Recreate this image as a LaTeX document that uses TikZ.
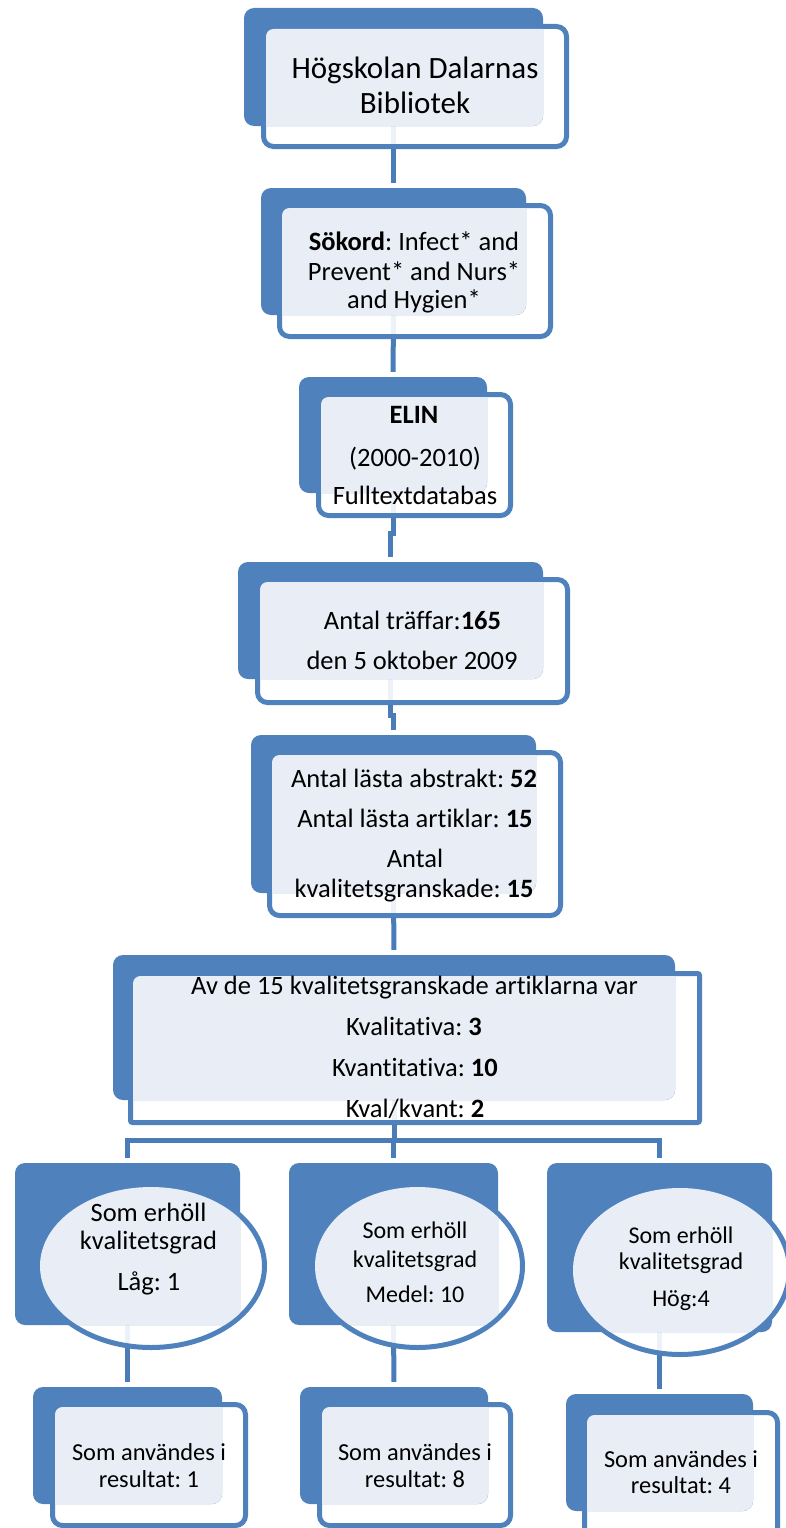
\documentclass[tikz,border=0pt]{standalone}
\usepackage{fontspec}
\setmainfont{Carlito}[Ligatures={NoCommon}]
\frenchspacing
\usetikzlibrary{backgrounds,shapes.geometric}
\definecolor{ablue}{RGB}{79,129,189}
\definecolor{alight}{RGB}{233,238,246}
\definecolor{aline}{RGB}{74,124,184}
\tikzset{
  backbox/.style={fill=ablue, draw=none, rounded corners=10pt, inner sep=0pt},
  frontbox/.style={draw=ablue, line width=5pt, fill=white, fill opacity=0.9, draw opacity=1, rounded corners=10pt, inner sep=0pt},
  ellbox/.style={ellipse, draw=ablue, line width=5pt, fill=white, fill opacity=0.9, draw opacity=1, inner sep=0pt},
  conn/.style={draw=aline, line width=5pt, shorten >=5pt},
  txt/.style={anchor=base, inner sep=0pt, text=black},
}
% double box: name, back x1 y1 x2 y2, front outer x1 y1 x2 y2
\newcommand\dbox[9]{%
  \node[frontbox, minimum width={#8-#6-5}, minimum height={#9-#7-5}] (#1) at ({(#6+#8)/2},{(#7+#9)/2}) {};
  \node[backbox, minimum width={#4-#2}, minimum height={#5-#3}] (#1back) at ({(#2+#4)/2},{(#3+#5)/2}) {};
  \begin{scope}
    \clip[rounded corners=10pt] (#2,#3) rectangle (#4,#5);
    \fill[alight, rounded corners=7.5pt] ({#6+5},{#7+5}) rectangle ({#8-5},{#9-5});
  \end{scope}
}
% ellipse box: name, back x1 y1 x2 y2, ellipse cx cy rx ry (outer)
\newcommand\ebox[9]{%
  \node[ellbox, minimum width={2*#8-5}, minimum height={2*#9-5}] (#1) at (#6,#7) {};
  \node[backbox, minimum width={#4-#2}, minimum height={#5-#3}] (#1back) at ({(#2+#4)/2},{(#3+#5)/2}) {};
  \begin{scope}
    \clip[rounded corners=10pt] (#2,#3) rectangle (#4,#5);
    \fill[alight] (#6,#7) ellipse [x radius={#8-5}, y radius={#9-5}];
  \end{scope}
}
\newcommand\tline[5]{\node[txt, font=\fontsize{#4}{#4}\selectfont] (#1) at (#2,#3) {#5};}
\begin{document}
\begin{tikzpicture}[x=1pt, y=-1pt]
\useasboundingbox (0,0) rectangle (786,1528);
\clip (0,0) rectangle (786,1528);

\dbox{b1}{244}{8}{543}{126}{261}{24}{569}{149}
\dbox{b2}{261}{188}{526}{315}{277}{203}{553}{339}
\dbox{b3}{299}{377}{487}{493}{316}{392}{513}{518}
\dbox{b4}{238}{562}{543}{679}{255}{577}{570}{705}
\dbox{b5}{251}{735}{536}{893}{267}{750}{563}{918}
\begin{scope}[frontbox/.append style={rounded corners=2pt}]
\dbox{b6}{113}{955}{675}{1100}{128}{971}{702}{1125}
\end{scope}

\ebox{e1}{15}{1163}{240}{1325}{151}{1266}{116}{84}
\ebox{e2}{289}{1163}{498}{1325}{417.5}{1266}{107.5}{84}
\ebox{e3}{547}{1163}{772}{1332}{680}{1270}{112}{87}

\dbox{s1}{33}{1387}{222}{1504}{50}{1402}{248}{1528}
\dbox{s2}{300}{1387}{488}{1504}{317}{1402}{513}{1528}
\dbox{s3}{566}{1394}{753}{1511}{582}{1410}{780}{1540}

% texts
\tline{t1a}{415}{78}{31}{Högskolan Dalarnas}
\tline{t1b}{415}{113}{31}{Bibliotek}

\tline{t2a}{414}{250}{26.5}{\textbf{Sökord}: Infect* and}
\tline{t2b}{414}{280}{26.5}{Prevent* and Nurs*}
\tline{t2c}{414}{308}{26.5}{and Hygien*}

\tline{t3a}{414}{423}{26.5}{\textbf{ELIN}}
\tline{t3b}{415}{466}{26.5}{(2000-2010)}
\tline{t3c}{415}{504}{26.5}{Fulltextdatabas}

\tline{t4a}{412.5}{629}{26.5}{Antal träffar:\textbf{165}}
\tline{t4b}{412}{669}{26.5}{den 5 oktober 2009}

\tline{t5a}{414}{787}{26.5}{Antal lästa abstrakt: \textbf{52}}
\tline{t5b}{415}{827}{26.5}{Antal lästa artiklar: \textbf{15}}
\tline{t5c}{415}{867}{26.5}{Antal}
\tline{t5d}{414}{897}{26.5}{kvalitetsgranskade: \textbf{15}}

\tline{t6a}{414.5}{994}{26.5}{Av de 15 kvalitetsgranskade artiklarna var}
\tline{t6b}{414}{1035}{26.5}{Kvalitativa: \textbf{3}}
\tline{t6c}{415}{1076}{26.5}{Kvantitativa: \textbf{10}}
\tline{t6d}{415}{1117}{26.5}{Kval/kvant: \textbf{2}}

\tline{te1a}{148.5}{1221}{26.5}{Som erhöll}
\tline{te1b}{148.5}{1249}{26.5}{kvalitetsgrad}
\tline{te1c}{149}{1290}{26.5}{Låg: 1}

\tline{te2a}{415}{1238}{24}{Som erhöll}
\tline{te2b}{415}{1267}{24}{kvalitetsgrad}
\tline{te2c}{415}{1302}{24}{Medel: 10}

\tline{te3a}{681}{1243}{24}{Som erhöll}
\tline{te3b}{681}{1269}{24}{kvalitetsgrad}
\tline{te3c}{681}{1306}{24}{Hög:4}

\tline{ts1a}{149}{1460}{24.4}{Som användes i}
\tline{ts1b}{149}{1487}{24.4}{resultat: 1}
\tline{ts2a}{415}{1460}{24.4}{Som användes i}
\tline{ts2b}{415}{1487}{24.4}{resultat: 8}
\tline{ts3a}{681}{1467}{24.4}{Som användes i}
\tline{ts3b}{681}{1493}{24.4}{resultat: 4}

\begin{pgfonlayer}{background}
\draw[conn] (b1back.south) -- (b2back.north);
\draw[conn] (b2back.south) -- (b3back.north);
\draw[conn] (b3back.south) -- ++(0,40) -| (b4back.north);
\draw[conn] (b4back.south) -- ++(0,36) -| (b5back.north);
\draw[conn] (b5back.south) -- (b6back.north);
\draw[conn] (b6back.south) -- ++(0,40) -| (e1back.north);
\draw[conn] (b6back.south) -- ++(0,40) -| (e2back.north);
\draw[conn] (b6back.south) -- ++(0,40) -| (e3back.north);
\draw[conn] (e1back.south) -- (s1back.north);
\draw[conn] (e2back.south) -- (s2back.north);
\draw[conn] (e3back.south) -- (s3back.north);
\end{pgfonlayer}
\end{tikzpicture}
\end{document}
